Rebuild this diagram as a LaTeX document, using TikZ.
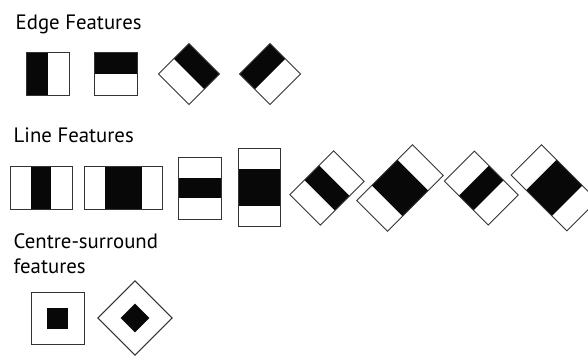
\documentclass[tikz,border=0pt]{standalone}
\usepackage{fontspec}
\setmainfont{PT Sans}
\tikzset{
  outline/.style={draw=black!80, line width=0.9pt, fill=none},
  blackpart/.style={fill=black!97, draw=none},
  title/.style={anchor=base west, inner sep=0pt, font=\fontsize{20.8}{25}\selectfont, text=black},
}
% \featbox{cx}{cy}{angle}{L}{S}{b1}{b2}
\newcommand{\featbox}[7]{%
  \begin{scope}[shift={(#1,#2)}, rotate=#3]
    \fill[blackpart] (#6,{-(#5)/2}) rectangle (#7,{(#5)/2});
    \draw[outline] ({-(#4)/2},{-(#5)/2}) rectangle ({(#4)/2},{(#5)/2});
  \end{scope}}
\begin{document}
\begin{tikzpicture}[x=1pt,y=-1pt]
\useasboundingbox (0,0) rectangle (588,356);
\fill[white] (0,0) rectangle (588,356);
% titles
\node[title] (edge) at (15.5,29.3) {Edge Features};
\node[title] (line) at (13.5,142.3) {Line Features};
\node[title] (cs1) at (13.5,248.3) {Centre-surround};
\node[title] (cs2) at (13.5,273.3) {features};
% edge features
\featbox{48}{74.2}{0}{43}{43}{-21.5}{0}
\featbox{115.8}{74.2}{90}{43}{43}{0}{21.5}
\featbox{189}{74}{45}{43}{43}{0}{21.5}
\featbox{270}{74}{-45}{43}{43}{-21.5}{0}
% line features
\featbox{41.2}{187.8}{0}{62.3}{43.7}{-10.2}{10.2}
\featbox{123.3}{187.8}{0}{78.7}{43.7}{-18.2}{18.2}
\featbox{199.8}{188.2}{90}{61.7}{43}{-10}{10}
\featbox{259.2}{187.5}{90}{78.4}{42.3}{-18.5}{18.5}
\featbox{327}{188}{45}{62}{43}{-10.3}{10.3}
\featbox{400}{188}{45}{78.7}{43.4}{-18.2}{18.2}
\featbox{481.3}{188}{-45}{62}{42.4}{-10.3}{10.3}
\featbox{554.2}{187.8}{-45}{78.7}{43}{-18.2}{18.2}
% centre-surround
\begin{scope}[shift={(57.8,318.5)}]
  \fill[blackpart] (-10.35,-10.35) rectangle (10.35,10.35);
  \draw[outline] (-26.25,-26.25) rectangle (26.25,26.25);
\end{scope}
\begin{scope}[shift={(135,318)}, rotate=45]
  \fill[blackpart] (-10.15,-10.15) rectangle (10.15,10.15);
  \draw[outline] (-26.25,-26.25) rectangle (26.25,26.25);
\end{scope}
\end{tikzpicture}
\end{document}
